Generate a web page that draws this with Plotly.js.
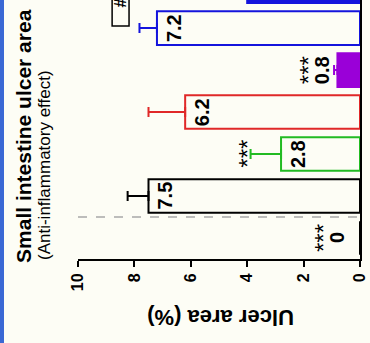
<!DOCTYPE html>
<html>
<head>
<meta charset="utf-8">
<script src="https://cdn.plot.ly/plotly-3.0.1.min.js"></script>
<style>
html,body{margin:0;padding:0;}
body{width:370px;height:343px;overflow:hidden;background:linear-gradient(to right,#3a68d4 0,#3a68d4 4px,#fdfdf5 4px,#fdfdf5 100%);}
#chart{width:370px;height:343px;}
</style>
</head>
<body>
<div id="chart"></div>
<script>
// ---- data ----
var groups = ["Normal", "Model", "Group A", "Group B", "Group C", "Group D", "Group E"];
var ulcerArea = [0, 7.5, 2.8, 6.2, 0.8, 7.2, 4.0];
var sem = [0, 0.74, 1.08, 1.3, 0.12, 0.62, 0.8];
var significance = ["***", "", "***", "", "***", "", "*"];
var xTicks = [0, 2, 4, 6, 8, 10];

// ---- styles ----
var lineColors = ["#000000", "#000000", "#22bb22", "#e02828", "#9a00d8", "#1414dd", "#1414dd"];
var fillColors = ["rgba(0,0,0,0)", "rgba(0,0,0,0)", "rgba(0,0,0,0)", "rgba(0,0,0,0)", "#9a00d8", "rgba(0,0,0,0)", "#1414dd"];
var FONT = "Liberation Sans, Arial, sans-serif";

var pos = groups.map(function (g, i) { return i; });

var traces = groups.map(function (g, i) {
  return {
    type: "bar",
    orientation: "h",
    name: g,
    y: [pos[i]],
    x: [ulcerArea[i]],
    width: 0.8,
    marker: {color: fillColors[i], line: {color: lineColors[i], width: 2}},
    error_x: {
      type: "data", symmetric: false, array: [sem[i]], arrayminus: [0],
      visible: sem[i] > 0, color: lineColors[i], thickness: 2, width: 5
    },
    hoverinfo: "skip",
    showlegend: false
  };
});

var annotations = [];
groups.forEach(function (g, i) {
  var v = ulcerArea[i], e = sem[i];
  var label = v === 0 ? "0" : v.toFixed(1);
  var inside = v >= 2;
  var labelShift = inside ? 17 : (v === 0 ? -23 : -12);
  var labelColor = fillColors[i] === "rgba(0,0,0,0)" ? "#000000" : (inside ? "#ffffff" : "#000000");
  annotations.push({
    xref: "x", yref: "y", x: inside ? v : v + e, y: pos[i],
    xanchor: "center", yanchor: "middle", xshift: labelShift,
    text: "<b>" + label + "</b>", textangle: -90, showarrow: false,
    font: {family: FONT, size: 20, color: labelColor}
  });
  if (significance[i]) {
    annotations.push({
      xref: "x", yref: "y", x: v + e, y: pos[i],
      xanchor: "center", yanchor: "middle",
      xshift: inside ? -4 : labelShift - 14,
      text: significance[i], textangle: -90, showarrow: false,
      font: {family: FONT, size: 24, color: "#000000"}
    });
  }
});

annotations.push({
  xref: "paper", yref: "paper", x: -0.1915, y: -0.023, xanchor: "center", yanchor: "bottom",
  text: "<b>Small intestine ulcer area</b>", textangle: -90, showarrow: false,
  font: {family: FONT, size: 21, color: "#000000"}
});
annotations.push({
  xref: "paper", yref: "paper", x: -0.1206, y: -0.0116, xanchor: "center", yanchor: "bottom",
  text: "(Anti-inflammatory effect)", textangle: -90, showarrow: false,
  font: {family: FONT, size: 17, color: "#000000"}
});
annotations.push({
  xref: "paper", yref: "paper", x: 0.5035, y: -0.226, xanchor: "center", yanchor: "middle",
  text: "<b>Ulcer area (%)</b>", textangle: 180, showarrow: false,
  font: {family: FONT, size: 22, color: "#000000"}
});
annotations.push({
  xref: "x", yref: "y", x: 8.49, y: 5.6, xanchor: "center", yanchor: "middle",
  text: "<b>#</b>", textangle: -90, showarrow: false,
  font: {family: FONT, size: 16, color: "#000000"}
});

var layout = {
  width: 370, height: 343,
  margin: {l: 78, r: 10, t: 0, b: 84, pad: 0},
  paper_bgcolor: "rgba(0,0,0,0)",
  plot_bgcolor: "rgba(0,0,0,0)",
  barmode: "overlay",
  showlegend: false,
  font: {family: FONT, color: "#000000"},
  xaxis: {
    range: [10, 0], tickmode: "array", tickvals: xTicks, ticktext: xTicks.map(String),
    tickangle: -90, ticks: "outside", ticklen: 6, tickwidth: 2, tickcolor: "#000000",
    showline: true, linecolor: "#000000", linewidth: 2,
    showgrid: false, zeroline: false,
    tickfont: {family: FONT, size: 16, color: "#000000", weight: "bold"}
  },
  yaxis: {
    type: "linear", range: [-0.5, 5.67], side: "right",
    showline: true, linecolor: "#000000", linewidth: 2,
    showticklabels: false, ticks: "", showgrid: false, zeroline: false
  },
  shapes: [
    {type: "line", xref: "x", yref: "y", x0: 10, x1: 0,
     y0: (pos[0] + pos[1]) / 2, y1: (pos[0] + pos[1]) / 2,
     line: {color: "#a8a8a8", width: 1.5, dash: "dash"}},
    {type: "rect", xref: "x", yref: "y", x0: 8.79, x1: 8.19, y0: 5.05, y1: 6.2,
     line: {color: "#000000", width: 1.5}, fillcolor: "rgba(0,0,0,0)"}
  ],
  annotations: annotations
};

Plotly.newPlot("chart", traces, layout, {staticPlot: true, displayModeBar: false});
</script>
</body>
</html>
